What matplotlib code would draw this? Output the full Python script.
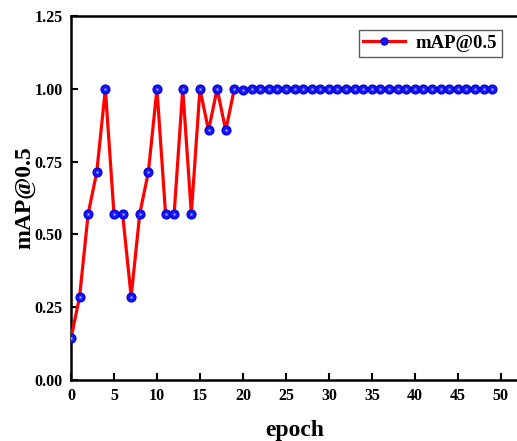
import numpy as np
import matplotlib
matplotlib.use('Agg')
import matplotlib.pyplot as plt
from matplotlib import rcParams

rcParams.update({'font.family': 'Liberation Serif', 'font.weight': 'bold'})

epochs = list(range(50))
map50 = [0.143, 0.286, 0.571, 0.714, 1.0, 0.571, 0.571, 0.286, 0.571, 0.714,
         1.0, 0.571, 0.571, 1.0, 0.571, 1.0, 0.857, 1.0, 0.857, 1.0,
         0.997] + [1.0] * 29
xticks = [0, 5, 10, 15, 20, 25, 30, 35, 40, 45, 50]
yticks = [0.00, 0.25, 0.50, 0.75, 1.00, 1.25]

fig = plt.figure(figsize=(5.17, 4.41), dpi=100)
ax = fig.add_axes([0.1373, 0.1383, 0.8647, 0.8254])

ax.plot(epochs, map50, color='red', lw=2.3, marker='o', ms=6.5,
        mfc='#1414ff', mec='#0000c8', mew=0.8, label='mAP@0.5', zorder=3)
# small highlight for the shaded ball look
ax.plot(epochs, map50, ls='none', marker='o', ms=1.8, mfc='#9a9aff',
        mec='none', zorder=4)

ax.set_xlim(0, 52)
ax.set_ylim(0, 1.25)
ax.set_xticks(xticks)
ax.set_yticks(yticks)
ax.set_yticklabels(['%.2f' % v for v in yticks])
ax.tick_params(direction='in', length=5, width=1.5, labelsize=11.5, pad=6)
for s in ax.spines.values():
    s.set_linewidth(1.8)

ax.set_xlabel('epoch', fontsize=17, fontweight='bold', labelpad=11)
ax.set_ylabel('mAP@0.5', fontsize=17, fontweight='bold', labelpad=-1)

leg = ax.legend(loc='upper right', bbox_to_anchor=(0.964, 0.9615), fontsize=13.5,
                frameon=True, fancybox=False, edgecolor='#333333',
                handlelength=2.2, borderpad=0.25, handletextpad=0.6,
                borderaxespad=0, markerscale=0.8)
leg.get_frame().set_linewidth(1.0)

plt.savefig('out.png', dpi=100)
